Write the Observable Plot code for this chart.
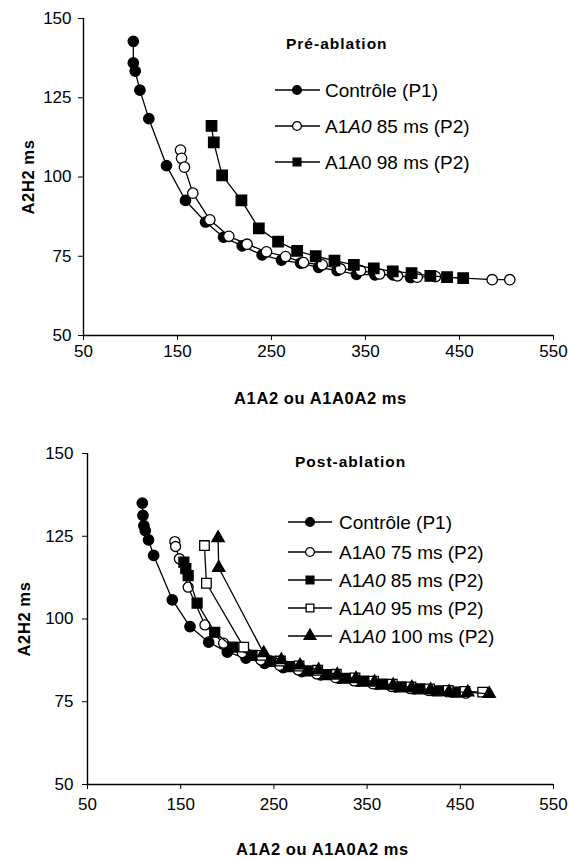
<!DOCTYPE html>
<html><head><meta charset="utf-8">
<script src="https://cdn.jsdelivr.net/npm/d3@7"></script>
<script src="https://cdn.jsdelivr.net/npm/@observablehq/plot@0.6"></script>
<style>
body{margin:0;background:#fff;}
#wrap{position:relative;width:569px;height:860px;overflow:hidden;background:#fff;}
.panel{position:absolute;left:0;width:569px;height:430px;}
.legend{position:absolute;left:0;top:0;}
</style></head><body><div id="wrap"></div>
<script>
const FONT = '"Liberation Sans", Arial, sans-serif';
const xTicks = [50, 150, 250, 350, 450, 550];
const yTicks = [50, 75, 100, 125, 150];
const xTitle = "A1A2 ou A1A0A2 ms";
const yTitle = "A2H2 ms";
const preTitle = "Pré-ablation";
const postTitle = "Post-ablation";

// Pré-ablation
const ctrlPreX = [103, 103, 105, 110, 119.5, 138.3, 158.5, 179.8, 199, 218.8, 240, 260.6, 281, 300, 319.8, 340.4, 360, 379.4, 398];
const ctrlPreY = [142.8, 136, 133.4, 127.4, 118.4, 103.6, 92.6, 85.8, 81, 78.3, 75.4, 73.8, 72.8, 71.5, 70.5, 69.3, 69.1, 69.1, 68.3];
const a85PreX = [153.2, 154.3, 157.4, 166.3, 184.4, 204.6, 224, 244.7, 265, 284, 304, 323.4, 344.7, 365, 384, 405, 424.5, 484.8, 503.5];
const a85PreY = [108.5, 105.9, 103.1, 94.9, 86.5, 81.3, 78.8, 76.4, 74.9, 73, 72.3, 71, 70.5, 69.4, 68.8, 68.4, 68.6, 67.6, 67.6];
const a98PreX = [186.2, 188.6, 197.5, 218, 236.5, 257, 277.3, 297, 317, 337.6, 358.8, 379, 399, 419, 436.8, 453.9];
const a98PreY = [116.1, 110.9, 100.5, 92.6, 83.8, 79.6, 76.7, 75, 73.6, 72.3, 71.2, 70.2, 69.7, 68.8, 68.4, 68.1];

// Post-ablation
const ctrlPostX = [108.8, 109.5, 110.5, 112, 115.5, 121, 141, 160, 180, 200, 220, 240, 260, 280, 300, 320, 340, 360, 380, 400, 420, 440];
const ctrlPostY = [135, 131.3, 128.2, 126.7, 123.9, 119.2, 105.8, 97.7, 93, 90, 88.2, 86.6, 85.3, 84.1, 83.1, 82.1, 81.2, 80.3, 79.5, 78.9, 78.4, 78];
const a75PostX = [143.7, 144.5, 148.6, 158, 176, 196, 216, 236, 256, 276, 296, 316, 336, 356, 376, 396, 416, 436, 456];
const a75PostY = [123.4, 121.9, 118.2, 109.6, 98.2, 92.7, 89.8, 87.6, 86, 84.6, 83.4, 82.3, 81.3, 80.4, 79.6, 79, 78.4, 78, 77.6];
const a85PostX = [153.4, 155.5, 158, 167.6, 186.5, 206, 226, 246, 266, 286, 306, 326, 346, 366, 386, 406, 426, 446];
const a85PostY = [117.2, 115.2, 113.1, 104.8, 96, 91.5, 89, 87.2, 85.6, 84.3, 83.2, 82.1, 81.2, 80.3, 79.5, 78.9, 78.3, 77.9];
const a95PostX = [175.5, 177.6, 217.6, 237, 257, 277, 297, 317, 337, 357, 377, 397, 417, 437, 455, 474];
const a95PostY = [122.2, 110.8, 91.5, 89, 87.3, 85.8, 84.5, 83.3, 82.2, 81.2, 80.3, 79.5, 78.9, 78.4, 78.1, 77.9];
const a100PostX = [190.1, 190.8, 239, 258, 278, 298, 318, 338, 358, 378, 398, 418, 438, 458, 481];
const a100PostY = [124.5, 115.5, 89.7, 87.6, 86, 84.6, 83.2, 82, 81, 80, 79.3, 78.6, 78, 77.9, 77.4];

const preSeries = [
  {x: ctrlPreX, y: ctrlPreY, symbol: "circle", fill: "black", r: 5.2, label: [["Contrôle (P1)", false]]},
  {x: a85PreX, y: a85PreY, symbol: "circle", fill: "white", r: 5.2, label: [["A1", false], ["A0", true], [" 85 ms (P2)", false]]},
  {x: a98PreX, y: a98PreY, symbol: "square", fill: "black", r: 5.9, label: [["A1A0 98 ms (P2)", false]]}
];
const postSeries = [
  {x: ctrlPostX, y: ctrlPostY, symbol: "circle", fill: "black", r: 5.2, label: [["Contrôle (P1)", false]]},
  {x: a75PostX, y: a75PostY, symbol: "circle", fill: "white", r: 5.0, label: [["A1A0 75 ms (P2)", false]]},
  {x: a85PostX, y: a85PostY, symbol: "square", fill: "black", r: 5.6, label: [["A1", false], ["A0", true], [" 85 ms (P2)", false]]},
  {x: a95PostX, y: a95PostY, symbol: "square", fill: "white", r: 5.4, label: [["A1", false], ["A0", true], [" 95 ms (P2)", false]]},
  {x: a100PostX, y: a100PostY, symbol: "triangle", fill: "black", r: 4.6, label: [["A1", false], ["A0", true], [" 100 ms (P2)", false]]}
];

function makePanel(cfg) {
  const marks = [
    Plot.axisX({ticks: xTicks, tickSize: 5, tickPadding: cfg.xpad, label: null, fontSize: 17}),
    Plot.axisY({ticks: yTicks, tickSize: 5, tickPadding: cfg.ypad, label: null, fontSize: 17}),
    Plot.ruleX([50], {stroke: "black", strokeWidth: 1.4}),
    Plot.ruleY([50], {stroke: "black", strokeWidth: 1.4}),
    Plot.text([xTitle], {text: d => d, frameAnchor: "bottom", textAnchor: "middle", dy: cfg.xtdy, dx: 2, lineAnchor: "middle", fontWeight: "bold", fontSize: 16.5}),
    Plot.text([yTitle], {text: d => d, frameAnchor: "left", textAnchor: "middle", rotate: -90, dx: cfg.ytdx, lineAnchor: "middle", fontWeight: "bold", fontSize: 16.5})
  ];
  cfg.series.forEach(s => {
    const data = s.x.map((x, i) => ({x, y: s.y[i]}));
    marks.push(Plot.line(data, {x: "x", y: "y", stroke: "black", strokeWidth: 1.3}));
    marks.push(Plot.dot(data, {x: "x", y: "y", symbol: () => s.symbol, r: s.r, fill: s.fill, stroke: "black", strokeWidth: 1.3}));
  });
  const svg = Plot.plot({
    width: 569, height: 430,
    marginLeft: cfg.ml, marginRight: 16, marginTop: cfg.mt, marginBottom: cfg.mb,
    x: {domain: [50, 550]},
    y: {domain: [50, 150]},
    symbol: {type: "identity"},
    style: {fontFamily: FONT, fontSize: "17px", color: "black", background: "white", overflow: "visible"},
    marks
  });
  d3.select(svg).selectAll("text").filter(function() { return this.textContent === xTitle || this.textContent === yTitle; })
    .style("letter-spacing", "0.6px");
  return svg;
}

function makeLegend(cfg) {
  const svg = d3.create("svg").attr("class", "legend").attr("width", 569).attr("height", 430)
    .style("font-family", FONT);
  svg.append("text").attr("x", cfg.tx).attr("y", cfg.ty).text(cfg.title)
    .attr("font-weight", "bold").attr("font-size", 15.5).style("letter-spacing", "1px");
  cfg.series.forEach((s, i) => {
    const y = cfg.rows[i];
    svg.append("line").attr("x1", cfg.lx1).attr("x2", cfg.lx2).attr("y1", y).attr("y2", y)
      .attr("stroke", "black").attr("stroke-width", 1.6);
    const sym = s.symbol === "circle" ? d3.symbolCircle : s.symbol === "square" ? d3.symbolSquare : d3.symbolTriangle;
    svg.append("path").attr("d", d3.symbol(sym, Math.PI * 4.4 * 4.4)())
      .attr("transform", `translate(${cfg.mx},${y})`)
      .attr("fill", s.fill).attr("stroke", "black").attr("stroke-width", 1.3);
    const t = svg.append("text").attr("x", cfg.textX).attr("y", y).attr("dy", "0.35em").attr("font-size", 19);
    s.label.forEach(([str, it]) => t.append("tspan").text(str).attr("font-style", it ? "italic" : "normal"));
  });
  return svg.node();
}

const wrap = document.getElementById("wrap");
const top1 = document.createElement("div"); top1.className = "panel"; top1.style.top = "0px";
const bot1 = document.createElement("div"); bot1.className = "panel"; bot1.style.top = "430px";
wrap.appendChild(top1); wrap.appendChild(bot1);

top1.appendChild(makePanel({series: preSeries, ml: 83, mt: 18, mb: 95, xpad: 4, ypad: 7, xtdy: 63, ytdx: -55}));
top1.appendChild(makeLegend({series: preSeries, title: preTitle, tx: 286, ty: 49, rows: [90, 126, 162], lx1: 275, lx2: 320, mx: 297, textX: 325}));

bot1.appendChild(makePanel({series: postSeries, ml: 87, mt: 23, mb: 76, xpad: 8, ypad: 9, xtdy: 65, ytdx: -63}));
bot1.appendChild(makeLegend({series: postSeries, title: postTitle, tx: 295, ty: 37, rows: [92, 122, 150, 178, 206], lx1: 288, lx2: 332, mx: 310, textX: 339}));
</script></body></html>
